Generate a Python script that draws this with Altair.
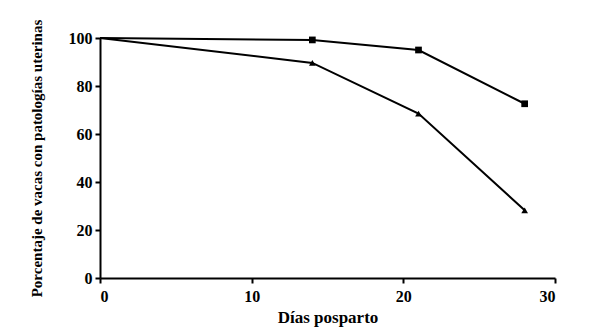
import altair as alt
import pandas as pd

dias = [0, 14, 21, 28]
serie_cuadrado = [100, 99.2, 95, 72.6]
serie_triangulo = [100, 89.6, 68.5, 28.2]

rows = []
for d, v in zip(dias, serie_cuadrado):
    rows.append({"dias": d, "pct": v, "serie": "cuadrado"})
for d, v in zip(dias, serie_triangulo):
    rows.append({"dias": d, "pct": v, "serie": "triangulo"})
df = pd.DataFrame(rows)

FONT = "Liberation Serif"

x = alt.X("dias:Q", scale=alt.Scale(domain=[0, 30], nice=False),
          axis=alt.Axis(values=[0, 10, 20, 30], title="Días posparto",
                        labelPadding=5, titlePadding=5, titleFontSize=17,
                        labelFontSize=16))
y = alt.Y("pct:Q", scale=alt.Scale(domain=[0, 100], nice=False),
          axis=alt.Axis(values=[0, 20, 40, 60, 80, 100],
                        title="Porcentaje de vacas con patologías uterinas",
                        labelPadding=3, titlePadding=24, titleFontSize=15,
                        labelFontSize=16))

lines = alt.Chart(df).mark_line(color="black", strokeWidth=2).encode(
    x=x, y=y, detail="serie:N")

points = alt.Chart(df).transform_filter("datum.dias > 0").mark_point(
    filled=True, color="black", opacity=1, size=45).encode(
    x=x, y=y,
    shape=alt.Shape("serie:N", scale=alt.Scale(domain=["cuadrado", "triangulo"],
                                               range=["square", "triangle-up"]),
                    legend=None))

chart = alt.layer(lines, points).properties(
    width=455, height=240,
    autosize=alt.AutoSizeParams(type="none"),
    padding={"left": 92, "top": 30, "right": 20, "bottom": 50},
).configure_view(stroke=None).configure_axis(
    grid=False,
    domainColor="black", domainWidth=2,
    tickColor="black", tickWidth=2, tickSize=5,
    labelFont=FONT, labelFontWeight="bold", labelColor="black",
    titleFont=FONT, titleFontWeight="bold", titleColor="black",
)

chart.save("out.html", embed_options={"renderer": "svg", "actions": False})
